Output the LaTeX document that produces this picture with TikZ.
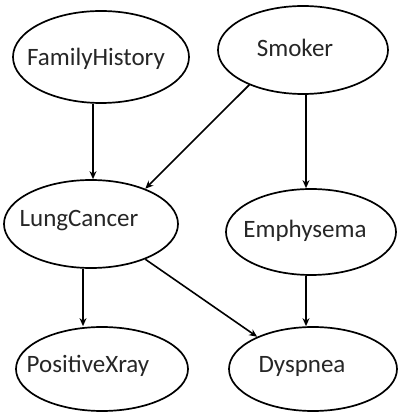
\documentclass[tikz,border=0pt]{standalone}
\usepackage{fontspec}
\setmainfont{Carlito}
\usetikzlibrary{shapes.geometric,arrows.meta}
\begin{document}
\begin{tikzpicture}[x=1pt,y=1pt,
  var/.style={draw=black,line width=1.7pt,ellipse,inner sep=0pt},
  lbl/.style={inner sep=0pt,font=\fontsize{25}{28}\selectfont,text=black!85},
  arr/.style={line width=1.6pt,-{Stealth[length=8pt,width=7pt]}}]
\useasboundingbox (0,0) rectangle (398,412);
% variable ellipses
\node[var,minimum width=176pt,minimum height=92pt] (fh) at (101,355) {};
\node[var,minimum width=170pt,minimum height=88pt] (sm) at (303,362) {};
\node[var,minimum width=174pt,minimum height=88pt] (lc) at (91,188) {};
\node[var,minimum width=170pt,minimum height=86pt] (em) at (311,180) {};
\node[var,minimum width=172pt,minimum height=84pt] (px) at (102,43) {};
\node[var,minimum width=168pt,minimum height=84pt] (dy) at (313,43) {};
% names
\node[lbl] (tfh) at (96,353) {FamilyHistory};
\node[lbl] (tsm) at (295,364) {Smoker};
\node[lbl] (tlc) at (79,191) {LungCancer};
\node[lbl] (tem) at (305,181) {Emphysema};
\node[lbl] (tpx) at (88,46) {PositiveXray};
\node[lbl] (tdy) at (302,46) {Dyspnea};
% dependencies
\draw[arr] ([xshift=-8pt]fh.south) -- ([xshift=2pt]lc.north);
\draw[arr] (sm.213) -- (lc.33);
\draw[arr] ([xshift=3pt]sm.south) -- ([xshift=-5pt]em.north);
\draw[arr] ([xshift=-8pt]lc.south) -- ([xshift=-19pt]px.north);
\draw[arr] (lc.327) -- (dy.150);
\draw[arr] ([xshift=-5pt]em.south) -- ([xshift=-7pt]dy.north);
\end{tikzpicture}
\end{document}
